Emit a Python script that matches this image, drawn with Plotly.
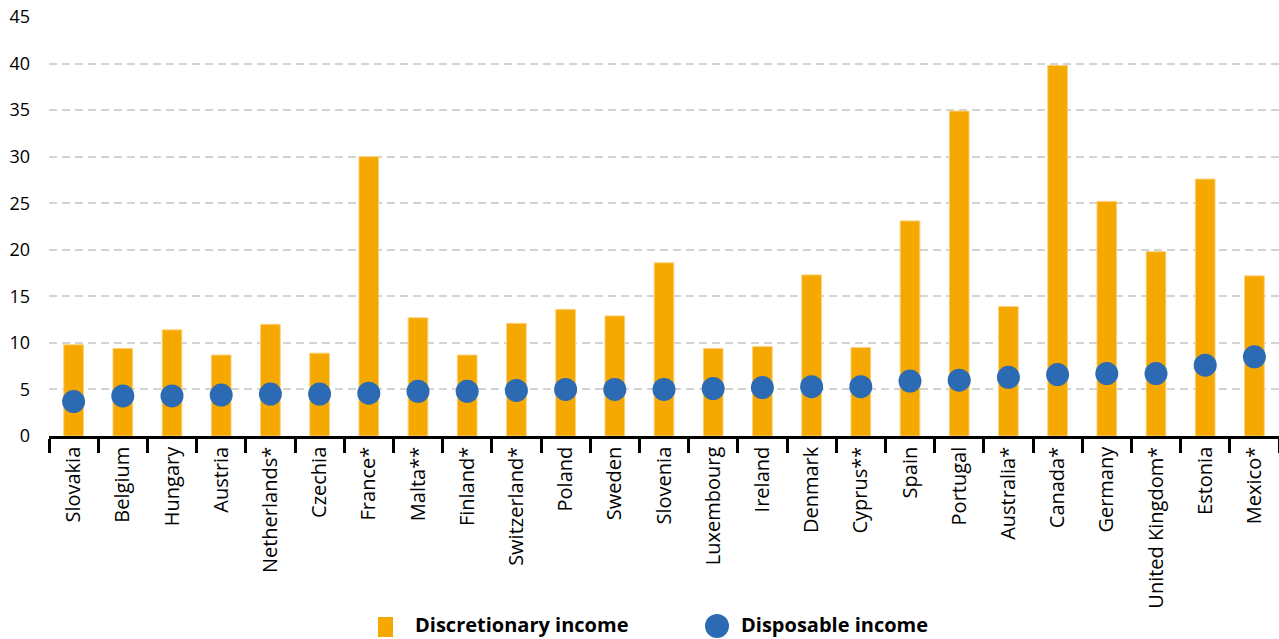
import plotly.graph_objects as go

countries = ["Slovakia", "Belgium", "Hungary", "Austria", "Netherlands*", "Czechia", "France*",
             "Malta**", "Finland*", "Switzerland*", "Poland", "Sweden", "Slovenia", "Luxembourg",
             "Ireland", "Denmark", "Cyprus**", "Spain", "Portugal", "Australia*", "Canada*",
             "Germany", "United Kingdom*", "Estonia", "Mexico*"]
discretionary = [9.8, 9.4, 11.4, 8.7, 12.0, 8.9, 30.0, 12.7, 8.7, 12.1, 13.6, 12.9, 18.6, 9.4,
                 9.6, 17.3, 9.5, 23.1, 34.9, 13.9, 39.8, 25.2, 19.8, 27.6, 17.2]
disposable = [3.7, 4.3, 4.3, 4.4, 4.5, 4.5, 4.6, 4.8, 4.8, 4.9, 5.0, 5.0, 5.0, 5.1,
              5.2, 5.3, 5.3, 5.9, 6.0, 6.3, 6.6, 6.7, 6.7, 7.6, 8.5]
y_ticks = [0, 5, 10, 15, 20, 25, 30, 35, 40, 45]
legend_labels = ["Discretionary income", "Disposable income"]

ORANGE = "#F5A800"
BLUE = "#2C6BB3"
FONT = "Open Sans"

fig = go.Figure()
fig.add_trace(go.Bar(x=countries, y=discretionary, name=legend_labels[0],
                     marker=dict(color=ORANGE, line=dict(color="#FAD27F", width=1)),
                     width=0.4))
fig.add_trace(go.Scatter(x=countries, y=disposable, name=legend_labels[1], mode="markers",
                         marker=dict(color=BLUE, size=23, line=dict(width=0))))

# Plot area in px: x 49..1279, y 17..436
def px_x(p):
    return (p - 49) / 1230.0

def px_y(p):
    return (436 - p) / 419.0

shapes = [
    dict(type="rect", xref="paper", yref="paper", x0=px_x(378), x1=px_x(393),
         y0=px_y(637), y1=px_y(617), fillcolor=ORANGE, line=dict(width=0)),
    dict(type="circle", xref="paper", yref="paper", x0=px_x(705), x1=px_x(729),
         y0=px_y(638), y1=px_y(614), fillcolor=BLUE, line=dict(width=0)),
]
annotations = [
    dict(text=legend_labels[0], xref="paper", yref="paper", x=px_x(414), y=px_y(624),
         xanchor="left", yanchor="middle", showarrow=False, borderpad=0,
         font=dict(family=FONT, size=20, color="black", weight="bold")),
    dict(text=legend_labels[1], xref="paper", yref="paper", x=px_x(740), y=px_y(624),
         xanchor="left", yanchor="middle", showarrow=False, borderpad=0,
         font=dict(family=FONT, size=20, color="black", weight="bold")),
]

fig.update_layout(
    width=1279, height=639,
    margin=dict(l=49, r=0, t=17, b=203, autoexpand=False),
    plot_bgcolor="white", paper_bgcolor="white",
    font=dict(family=FONT, color="black", size=17),
    showlegend=False,
    shapes=shapes, annotations=annotations,
)
fig.update_xaxes(
    type="category", range=[-0.5, len(countries) - 0.5], automargin=False,
    tickangle=-90, showline=True, linecolor="black", linewidth=2.5,
    ticks="outside", tickson="boundaries", ticklen=14, tickwidth=2.5, tickcolor="black",
    showgrid=False, tickfont=dict(family=FONT, size=20, color="black"),
)
fig.update_yaxes(
    range=[0, 45], tickvals=y_ticks, automargin=False, showgrid=True, gridcolor="#D3D3D3",
    gridwidth=1.5, griddash="8px,5px", zeroline=False, ticks="", ticklabelstandoff=18,
    tickfont=dict(family=FONT, size=18, color="black"),
)

fig.write_html("out.html")
